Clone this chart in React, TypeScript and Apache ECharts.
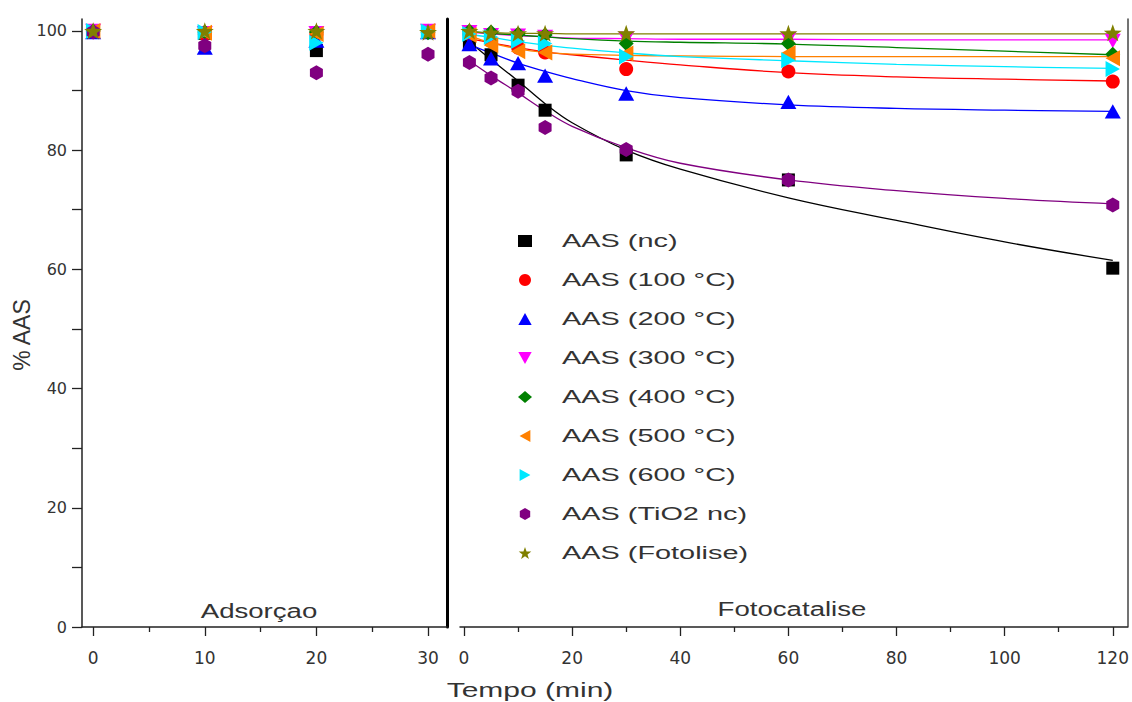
import React, { useEffect, useRef } from 'react';
import * as echarts from 'echarts';

// ---------- data ----------
const seriesNames = [
  'AAS (nc)',
  'AAS (100 °C)',
  'AAS (200 °C)',
  'AAS (300 °C)',
  'AAS (400 °C)',
  'AAS (500 °C)',
  'AAS (600 °C)',
  'AAS (TiO2 nc)',
  'AAS (Fotolise)',
];

const tAds = [0, 10, 20, 30];
const tPhoto = [1, 5, 10, 15, 30, 60, 120];
const tFit = [1, 5, 10, 15, 20, 30, 40, 60, 80, 100, 120];

const adsNc = [100, 99.6, 96.7, 99.8];
const ads100 = [100, 99.5, 99.5, 100];
const ads200 = [99.8, 97.2, 98.4, 99.8];
const ads300 = [100, 99.6, 99.6, 100];
const ads400 = [100, 99.8, 99.8, 99.7];
const ads500 = [100, 99.7, 99.5, 100];
const ads600 = [100, 99.8, 98.0, 99.9];
const adsTiO2 = [99.8, 97.5, 93.0, 96.1];
const adsFoto = [100, 100, 100, 99.8];

const phNc = [98.0, 96.0, 90.9, 86.7, 79.2, 75.0, 60.2];
const ph100 = [99.5, 98.3, 97.2, 96.4, 93.6, 93.2, 91.5];
const ph200 = [97.8, 95.4, 94.6, 92.5, 89.5, 88.1, 86.5];
const ph300 = [99.8, 99.3, 99.2, 99.0, 98.7, 98.6, 98.3];
const ph400 = [100, 99.8, 99.5, 99.3, 97.9, 97.9, 96.1];
const ph500 = [99.3, 97.6, 96.6, 96.4, 96.2, 96.3, 95.4];
const ph600 = [99.5, 99.0, 98.3, 97.9, 95.7, 95.1, 93.6];
const phTiO2 = [94.7, 92.1, 89.9, 83.8, 80.1, 75.0, 70.8];
const phFoto = [100, 99.7, 99.6, 99.6, 99.6, 99.6, 99.7];

const fitNc = [98.2, 95.2, 91.6, 87.8, 84.6, 80.0, 76.8, 72.0, 68.2, 64.6, 61.5];
const fit100 = [98.7, 98.0, 97.2, 96.5, 96.0, 95.1, 94.3, 93.0, 92.3, 91.9, 91.6];
const fit200 = [97.7, 96.3, 94.6, 93.2, 92.0, 90.0, 88.8, 87.6, 87.0, 86.7, 86.5];
const fit300 = [99.8, 99.5, 99.2, 99.0, 98.8, 98.7, 98.6, 98.6, 98.5, 98.5, 98.5];
const fit400 = [99.9, 99.6, 99.3, 99.0, 98.7, 98.3, 98.1, 97.8, 97.2, 96.6, 96.0];
const fit500 = [99.2, 98.0, 97.0, 96.4, 96.1, 95.9, 95.8, 95.7, 95.7, 95.7, 95.7];
const fit600 = [99.4, 98.9, 98.2, 97.6, 97.1, 96.3, 95.7, 95.0, 94.4, 94.0, 93.7];
const fitTiO2 = [95.0, 92.5, 89.6, 86.6, 84.0, 80.4, 77.8, 75.0, 73.2, 71.9, 71.0];
const fitFoto = [99.8, 99.7, 99.6, 99.6, 99.5, 99.5, 99.5, 99.5, 99.5, 99.5, 99.5];

const adsData = [adsNc, ads100, ads200, ads300, ads400, ads500, ads600, adsTiO2, adsFoto];
const photoData = [phNc, ph100, ph200, ph300, ph400, ph500, ph600, phTiO2, phFoto];
const fitData = [fitNc, fit100, fit200, fit300, fit400, fit500, fit600, fitTiO2, fitFoto];

const yTickLabels = [0, 20, 40, 60, 80, 100];
const yTicks = [0, 10, 20, 30, 40, 50, 60, 70, 80, 90, 100];
const xAdsMajor = [0, 10, 20, 30];
const xAdsMinor = [5, 15, 25];
const xPhotoMajor = [0, 20, 40, 60, 80, 100, 120];
const xPhotoMinor = [10, 30, 50, 70, 90, 110];

// ---------- styles ----------
const HEX = 'path://M0,-10 L8.66,-5 L8.66,5 L0,10 L-8.66,5 L-8.66,-5 Z';
const STAR =
  'path://M0,-10 L2.35,-3.24 L9.51,-3.09 L3.8,1.24 L5.88,8.09 L0,4 L-5.88,8.09 L-3.8,1.24 L-9.51,-3.09 L-2.35,-3.24 Z';
const TRI_DOWN = 'path://M0,0 L10,0 L5,9 Z';
const TRI_LEFT = 'path://M9,0 L9,10 L0,5 Z';
const TRI_RIGHT = 'path://M0,0 L9,5 L0,10 Z';
const TRI_UP = 'path://M5,0 L10,9 L0,9 Z';

const styles = [
  { color: '#000000', symbol: 'rect', size: 13 },
  { color: '#ff0000', symbol: 'circle', size: 14 },
  { color: '#0000ff', symbol: TRI_UP, size: 16 },
  { color: '#ff00ff', symbol: TRI_DOWN, size: 16 },
  { color: '#008000', symbol: 'diamond', size: 15 },
  { color: '#ff8000', symbol: TRI_LEFT, size: 16 },
  { color: '#00e8ff', symbol: TRI_RIGHT, size: 16 },
  { color: '#800080', symbol: HEX, size: 15 },
  { color: '#808000', symbol: STAR, size: 18 },
];

const FONT = '"Liberation Sans", Arial, sans-serif';
const AXIS_COLOR = '#222';
const LABEL_COLOR = '#333';

const GRID_TOP = 19;
const GRID_H = 608;

export default function App() {
  const ref = useRef<HTMLDivElement>(null);

  useEffect(() => {
    if (!ref.current) return;
    const chart = echarts.init(ref.current, null, { renderer: 'svg' });

    const series: any[] = [];
    // fit lines first (below markers)
    seriesNames.forEach((name, i) => {
      const st = styles[i];
      series.push({
        name: name + ' fit',
        type: 'line',
        xAxisIndex: 2,
        yAxisIndex: 2,
        smooth: 0.4,
        showSymbol: false,
        silent: true,
        z: 1,
        lineStyle: { color: st.color, width: 1.3 },
        data: tFit.map((t, k) => [t, fitData[i][k]]),
      });
    });
    seriesNames.forEach((name, i) => {
      const st = styles[i];
      const common = {
        name,
        type: 'scatter',
        symbol: st.symbol,
        symbolSize: st.size,
        symbolKeepAspect: true,
        itemStyle: { color: st.color, opacity: 1 },
        z: 3,
      };
      series.push({
        ...common,
        xAxisIndex: 0,
        yAxisIndex: 0,
        data: tAds.map((t, k) => [t, adsData[i][k]]),
      });
      series.push({
        ...common,
        xAxisIndex: 2,
        yAxisIndex: 2,
        data: tPhoto.map((t, k) => [t, photoData[i][k]]),
      });
    });

    const xMain = (gridIndex: number, min: number, max: number, major: number[]) => ({
      type: 'value',
      gridIndex,
      position: 'bottom',
      min,
      max,
      axisLine: { show: true, onZero: false, lineStyle: { color: AXIS_COLOR, width: 1.5 } },
      axisTick: { show: true, customValues: major, length: 9, lineStyle: { color: AXIS_COLOR, width: 1.3 } },
      axisLabel: {
        show: true,
        customValues: major,
        margin: 22,
        fontSize: 17,
        fontFamily: '"DejaVu Sans", sans-serif',
        color: LABEL_COLOR,
      },
      splitLine: { show: false },
    });
    const xMinor = (gridIndex: number, min: number, max: number, minor: number[]) => ({
      type: 'value',
      gridIndex,
      position: 'bottom',
      min,
      max,
      axisLine: { show: false, onZero: false },
      axisTick: { show: true, customValues: minor, length: 5, lineStyle: { color: AXIS_COLOR, width: 1.3 } },
      axisLabel: { show: false },
      splitLine: { show: false },
    });

    const legendY = [240, 279, 318, 357, 396, 435, 474, 513, 552];

    const option: any = {
      animation: false,
      backgroundColor: '#ffffff',
      grid: [
        { left: 82, top: GRID_TOP, width: 365, height: GRID_H },
        { left: 460, top: GRID_TOP, width: 668, height: GRID_H },
      ],
      xAxis: [
        xMain(0, -1, 31.7, xAdsMajor),
        xMinor(0, -1, 31.7, xAdsMinor),
        xMain(1, -0.74, 122.7, xPhotoMajor),
        xMinor(1, -0.74, 122.7, xPhotoMinor),
      ],
      yAxis: [
        {
          type: 'value',
          gridIndex: 0,
          position: 'left',
          min: 0,
          max: 102,
          axisLine: { show: true, onZero: false, lineStyle: { color: AXIS_COLOR, width: 1.5 } },
          axisTick: { show: true, customValues: yTicks, length: 10, lineStyle: { color: AXIS_COLOR, width: 1.3 } },
          axisLabel: {
            show: true,
            customValues: yTickLabels,
            margin: 15,
            fontSize: 16,
            fontFamily: '"DejaVu Sans", sans-serif',
            color: LABEL_COLOR,
          },
          splitLine: { show: false },
        },
        {
          type: 'value',
          gridIndex: 0,
          position: 'right',
          min: 0,
          max: 102,
          axisLine: { show: true, onZero: false, lineStyle: { color: '#000', width: 3 } },
          axisTick: { show: false },
          axisLabel: { show: false },
          splitLine: { show: false },
        },
        {
          type: 'value',
          gridIndex: 1,
          position: 'right',
          min: 0,
          max: 102,
          axisLine: { show: true, onZero: false, lineStyle: { color: '#444', width: 1.5 } },
          axisTick: { show: false },
          axisLabel: { show: false },
          splitLine: { show: false },
        },
      ],
      legend: {
        show: true,
        orient: 'vertical',
        left: 513,
        top: 230,
        itemWidth: 14,
        itemHeight: 12,
        itemGap: 27,
        data: seriesNames,
        formatter: () => '',
        textStyle: { fontSize: 10, lineHeight: 12 },
        selectedMode: false,
      },
      graphic: [
        {
          type: 'text',
          x: 22,
          y: 335,
          rotation: Math.PI / 2,
          style: {
            text: '% AAS',
            fontSize: 23,
            fontFamily: FONT,
            fill: LABEL_COLOR,
            textAlign: 'center',
            textVerticalAlign: 'middle',
          },
        },
        {
          type: 'text',
          x: 530,
          y: 690,
          scaleX: 1.5,
          style: {
            text: 'Tempo (min)',
            fontSize: 20,
            fontFamily: FONT,
            fill: LABEL_COLOR,
            textAlign: 'center',
            textVerticalAlign: 'middle',
          },
        },
        {
          type: 'text',
          x: 259,
          y: 611,
          scaleX: 1.38,
          style: {
            text: 'Adsorçao',
            fontSize: 20,
            fontFamily: FONT,
            fill: LABEL_COLOR,
            textAlign: 'center',
            textVerticalAlign: 'middle',
          },
        },
        {
          type: 'text',
          x: 792,
          y: 609,
          scaleX: 1.38,
          style: {
            text: 'Fotocatalise',
            fontSize: 20,
            fontFamily: FONT,
            fill: LABEL_COLOR,
            textAlign: 'center',
            textVerticalAlign: 'middle',
          },
        },
        ...seriesNames.map((name, i) => ({
          type: 'text',
          x: 562,
          y: legendY[i],
          scaleX: 1.52,
          style: {
            text: name,
            fontSize: 19,
            fontFamily: FONT,
            fill: LABEL_COLOR,
            textAlign: 'left',
            textVerticalAlign: 'middle',
          },
        })),
      ],
      series,
    };

    chart.setOption(option);
    return () => chart.dispose();
  }, []);

  return (
    <div
      ref={ref}
      style={{ position: 'absolute', left: 0, top: 0, width: 1132, height: 702 }}
    />
  );
}
